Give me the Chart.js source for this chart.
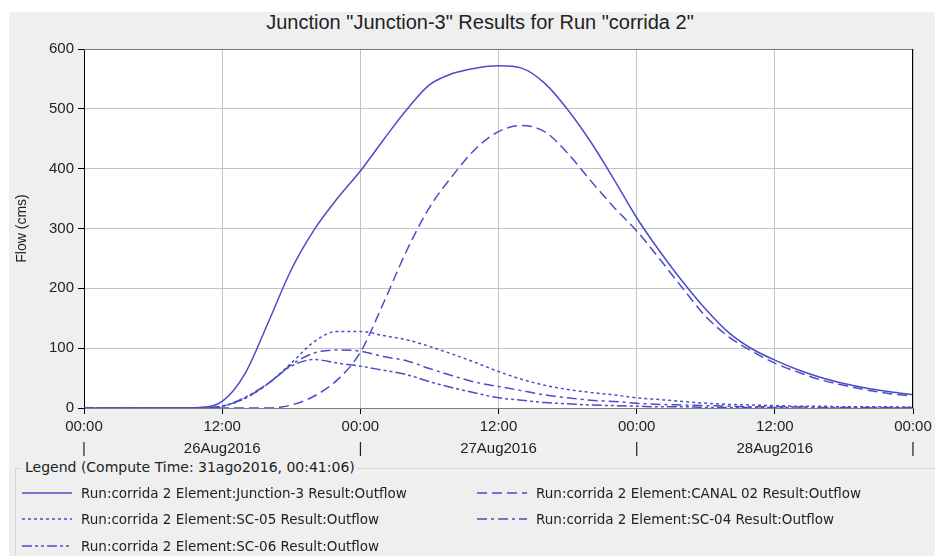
<!DOCTYPE html>
<html>
<head>
<meta charset="utf-8">
<script src="https://cdn.jsdelivr.net/npm/chart.js@4.4.0/dist/chart.umd.min.js"></script>
<style>
  body { margin: 0; background: #ffffff; font-family: "DejaVu Sans", sans-serif; }
  #panel { position: absolute; left: 9px; top: 12px; width: 926px; height: 544px; background: #efefef; }
  #wrap { position: absolute; left: 0; top: 0; width: 935px; height: 462px; }
  #title { position: absolute; left: 0; top: 11px; width: 960px; text-align: center;
    font-family: "Liberation Sans", Arial, sans-serif; font-size: 20px; line-height: 22px; color: #222; }
  #legendBox { position: absolute; left: 15px; top: 468px; width: 920px; height: 88px;
    border-top: 1px solid #d6d6d6; border-left: 1px solid #d6d6d6; }
  #legendTitle { position: absolute; left: 22px; top: 458px; padding: 0 3px; background: #efefef;
    font-size: 14px; color: #222; line-height: 18px; }
  .item { position: absolute; font-size: 13.5px; color: #222; line-height: 16px; white-space: nowrap; }
  .item svg { position: absolute; top: 2px; }
  .item span { position: absolute; }
</style>
</head>
<body>
<div id="panel"></div>
<div id="title">Junction "Junction-3" Results for Run "corrida 2"</div>
<div id="wrap"><canvas id="chart"></canvas></div>
<div id="legendBox"></div>
<div id="legendTitle">Legend (Compute Time: 31ago2016, 00:41:06)</div>
<div id="legend"></div>
<script>

// hours since 26Aug2016 00:00
var hours = [0, 2, 4, 6, 8, 10, 12, 14, 16, 18, 20, 22, 24, 26, 28, 30, 32, 34, 36,
  38, 40, 42, 44, 46, 48, 50, 52, 54, 56, 58, 60, 62, 64, 66, 68, 70, 72];

var junction3 = [0, 0, 0, 0, 0, 1, 11, 58, 143, 231, 298, 350, 396, 448, 498, 540, 559, 568, 572,
  568, 543, 499, 445, 383, 318, 262, 211, 165, 126, 99, 80, 64, 51, 41, 33, 27, 22];
var canal02 = [0, 0, 0, 0, 0, 0, 0, 0, 0, 5, 20, 47, 93, 175, 262, 335, 388, 433, 462,
  472, 462, 426, 380, 336, 296, 249, 200, 153, 119, 95, 75, 60, 47, 38, 30, 24, 20];
var sc05 = [0, 0, 0, 0, 0, 0, 3, 16, 41, 75, 111, 128, 128, 121, 114, 103, 90, 76, 61,
  48, 38, 31, 26, 22, 17, 14, 11, 8, 6, 5, 4, 3, 3, 2, 2, 2, 1];
var sc04 = [0, 0, 0, 0, 0, 0, 3, 17, 41, 72, 92, 97, 95, 86, 79, 66, 54, 43, 36,
  29, 22, 17, 13, 11, 8, 6, 5, 4, 3, 2, 2, 2, 1, 1, 1, 1, 1];
var sc06 = [0, 0, 0, 0, 0, 0, 3, 18, 41, 70, 81, 75, 70, 63, 56, 44, 34, 25, 17,
  13, 9, 7, 5, 4, 3, 2, 2, 1, 1, 1, 1, 0, 0, 0, 0, 0, 0];

var seriesNames = [
  "Run:corrida 2 Element:Junction-3 Result:Outflow",
  "Run:corrida 2 Element:CANAL 02 Result:Outflow",
  "Run:corrida 2 Element:SC-05 Result:Outflow",
  "Run:corrida 2 Element:SC-04 Result:Outflow",
  "Run:corrida 2 Element:SC-06 Result:Outflow"
];

var timeLabels = ["00:00", "12:00", "00:00", "12:00", "00:00", "12:00", "00:00"];
var dateLabels = ["|", "26Aug2016", "|", "27Aug2016", "|", "28Aug2016", "|"];

var lineColor = "rgb(76, 76, 200)";
var dashes = [[], [10, 5], [3, 3], [10, 4, 3, 4], [10, 3, 3, 3, 3, 3]];

function points(values) {

  var out = [];
  for (var i = 0; i < hours.length; i++) {
    out.push({ x: hours[i], y: values[i] });
  }
  return out;
}

var allSeries = [junction3, canal02, sc05, sc04, sc06];
var datasets = [];
for (var i = 0; i < allSeries.length; i++) {
  datasets.push({
    label: seriesNames[i],
    data: points(allSeries[i]),
    borderColor: lineColor,
    borderWidth: 1.5,
    borderDash: dashes[i],
    pointRadius: 0,
    fill: false,
    cubicInterpolationMode: "monotone"
  });
}

var frame = {
  id: "frame",
  beforeDraw: function(chart) {
    var a = chart.chartArea;
    var ctx = chart.ctx;
    ctx.save();
    ctx.fillStyle = "#ffffff";
    ctx.fillRect(a.left, a.top, a.right - a.left, a.bottom - a.top);
    ctx.restore();
  },
  afterDraw: function(chart) {
    var a = chart.chartArea;
    var ctx = chart.ctx;
    ctx.save();
    ctx.lineWidth = 1;
    ctx.strokeStyle = "#777777";
    ctx.beginPath();
    ctx.moveTo(a.left, a.top + 0.5);
    ctx.lineTo(a.right, a.top + 0.5);
    ctx.stroke();
    ctx.strokeStyle = "#000000";
    ctx.beginPath();
    ctx.moveTo(a.right - 0.5, a.top);
    ctx.lineTo(a.right - 0.5, a.bottom);
    ctx.stroke();
    ctx.restore();
  }
};

Chart.defaults.font.family = "'Liberation Sans', Arial, sans-serif";
Chart.defaults.color = "#222222";

var ctx = document.getElementById("chart").getContext("2d");
var chart = new Chart(ctx, {
  type: "line",
  data: { datasets: datasets },
  plugins: [frame],
  options: {
    responsive: true,
    maintainAspectRatio: false,
    animation: false,
    layout: { padding: { left: 9, top: 49, right: 22, bottom: 0 } },
    plugins: {
      legend: { display: false },
      tooltip: { enabled: false }
    },
    scales: {
      x: {
        type: "linear",
        min: 0,
        max: 72,
        afterFit: function(scale) { scale.height = 54; },
        ticks: {
          stepSize: 12,
          autoSkip: false,
          maxRotation: 0,
          padding: 2,
          font: { size: 15, lineHeight: 1.47 },
          callback: function(value, index) {
            return [timeLabels[index], dateLabels[index]];
          }
        },
        grid: { color: "#c4c4c4", tickColor: "#000000", tickLength: 6 },
        border: { color: "#808080" }
      },
      y: {
        min: 0,
        max: 600,
        afterFit: function(scale) { scale.width = 75; },
        ticks: { stepSize: 100, padding: 4, font: { size: 15 } },
        grid: { color: "#c4c4c4", tickColor: "#000000", tickLength: 6 },
        border: { color: "#000000" },
        title: { display: true, text: "Flow (cms)", font: { size: 14 }, padding: 5 }
      }
    }
  }
});

// legend built from the chart datasets
var slots = [[22, 493], [477, 493], [22, 519], [477, 519], [22, 546]];
var legend = document.getElementById("legend");
chart.data.datasets.forEach(function(ds, i) {
  var el = document.createElement("div");
  el.className = "item";
  el.style.left = slots[i][0] + "px";
  el.style.top = (slots[i][1] - 8) + "px";
  el.innerHTML = '<svg width="50" height="12"><line x1="0" y1="6" x2="50" y2="6" stroke="' + lineColor +
    '" stroke-width="1.5" stroke-dasharray="' + (ds.borderDash.length ? ds.borderDash.join(",") : "none") +
    '"/></svg><span style="left:59px">' + ds.label + '</span>';
  legend.appendChild(el);
});
</script>
</body>
</html>
